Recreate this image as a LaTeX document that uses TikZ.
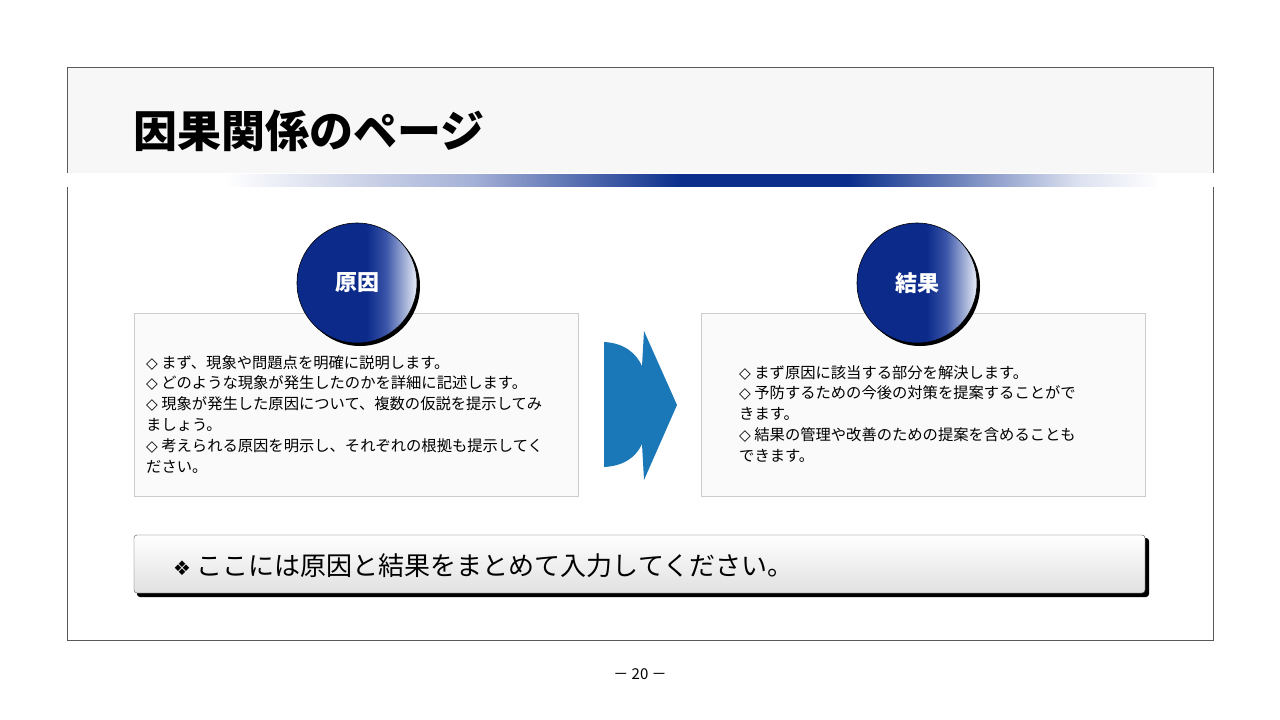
\documentclass[tikz,border=0pt]{standalone}
\usepackage{fontspec}
\setmainfont{Noto Sans CJK JP}
\newfontfamily\djv{DejaVu Sans}
\usetikzlibrary{shadows}
\definecolor{ballnavy}{HTML}{0B2A8A}
\definecolor{ballmid}{HTML}{3A55A8}
\definecolor{balllight}{HTML}{E8ECF6}
\definecolor{barblue}{HTML}{0A2E8C}
\definecolor{barlight}{HTML}{A4B0D6}
\definecolor{barpale}{HTML}{DCE1F0}
\definecolor{arrowblue}{HTML}{1A78B8}
\pgfdeclarehorizontalshading{ballshade}{100bp}{color(0bp)=(ballnavy);color(25bp)=(ballnavy);color(54bp)=(ballnavy);color(62bp)=(ballmid);color(75bp)=(balllight);color(100bp)=(balllight)}
\pgfdeclarehorizontalshading{barshade}{100bp}{color(0bp)=(white);color(30bp)=(white);color(42bp)=(barlight);color(52bp)=(barblue);color(60bp)=(barblue);color(71bp)=(barpale);color(75bp)=(white);color(100bp)=(white)}
\tikzset{
  txtbox/.style={draw=black!20, fill=black!2},
  ball/.style={circle, minimum size=120pt, shading=ballshade, draw=black, line width=0.6pt,
     drop shadow={shadow xshift=3pt, shadow yshift=-3pt, fill=black, opacity=1},
     text=white, font=\bfseries\fontsize{22}{26}\selectfont},
  body/.style={anchor=north west, align=left, font=\fontsize{15.3}{20.8}\selectfont, inner sep=0pt}
}
\begin{document}
\begin{tikzpicture}[x=1pt,y=-1pt]
\useasboundingbox (0,0) rectangle (1280,720);
\fill[white] (0,0) rectangle (1280,720);
\fill[black!3] (67,67) rectangle (1213,173);
\draw[black!65] (67,67) rectangle (1213,640);
\fill[white] (60,173) rectangle (1220,187);
\fill[shading=barshade] (120,174) rectangle (1160,186);
\node[anchor=base west, inner sep=0pt, font=\bfseries\fontsize{44}{48}\selectfont] (title) at (133,147) {因果関係のページ};
% boxes
\draw[txtbox] (134,313) rectangle (578,496);
\draw[txtbox] (701,313) rectangle (1145,496);
\node[ball] (cause) at (357,283) {原因};
\node[ball] (effect) at (917,283) {結果};
\node[body] (ltxt) at (146,355) {{\djv◇} まず、現象や問題点を明確に説明します。\\
{\djv◇} どのような現象が発生したのかを詳細に記述します。\\
{\djv◇} 現象が発生した原因について、複数の仮説を提示してみ\\
ましょう。\\
{\djv◇} 考えられる原因を明示し、それぞれの根拠も提示してく\\
ださい。};
\node[body] (rtxt) at (739,365) {{\djv◇} まず原因に該当する部分を解決します。\\
{\djv◇} 予防するための今後の対策を提案することがで\\
きます。\\
{\djv◇} 結果の管理や改善のための提案を含めることも\\
できます。};
% arrow
\fill[arrowblue] (604,342) .. controls (624,343) and (636,353) .. (642,366) -- (644,331) -- (677,405) -- (644,480) -- (642,444) .. controls (636,457) and (624,466) .. (604,467) -- cycle;
% bottom box
\fill[black, rounded corners=3pt] (137,538) rectangle (1149,597);
\shade[top color=white, bottom color=black!12, draw=black!70, rounded corners=3pt] (134,535) rectangle (1145,593);
\node[anchor=west, inner sep=0pt, font=\fontsize{26}{30}\selectfont] (sum) at (173,566) {{\djv\fontsize{20}{24}\selectfont ❖} ここには原因と結果をまとめて入力してください。};
\node[font=\fontsize{15}{18}\selectfont] (page) at (640,674) {－ 20 －};
\end{tikzpicture}
\end{document}
